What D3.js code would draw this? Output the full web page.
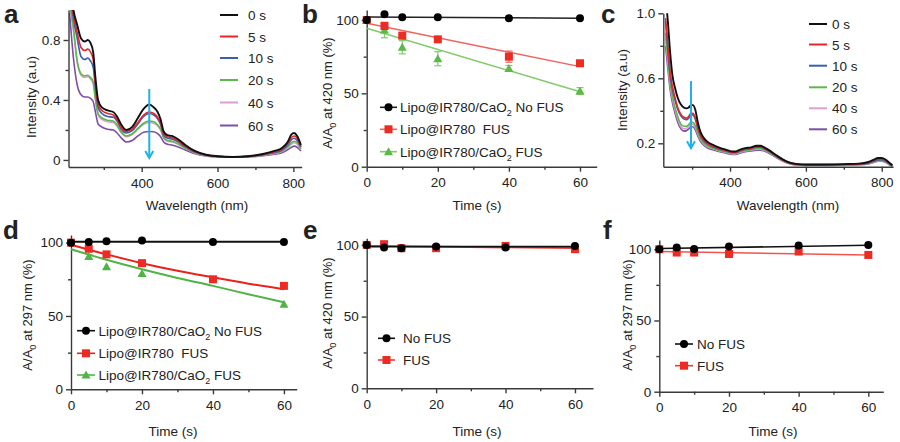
<!DOCTYPE html>
<html><head><meta charset="utf-8">
<script src="https://cdn.jsdelivr.net/npm/d3@7"></script>
<style>
body{margin:0;background:#fff}
svg{display:block}
text{font-family:Arial,"Liberation Sans",Helvetica,sans-serif;fill:#222;white-space:pre}
</style>
</head><body>
<svg id="chart" width="900" height="442"></svg>
<script>
// ---------------- DATA ----------------
const SERIES_LABELS = ["0 s", "5 s", "10 s", "20 s", "40 s", "60 s"];
const SERIES_COLORS = ["#111111", "#e8262a", "#3c5eb0", "#5cb848", "#dc9fd3", "#7d4fa5"];

// panel a spectra (Intensity vs wavelength)
const WL_A = [210,220,230,240,250,258,265,272,278,285,295,310,325,335,345,360,375,390,405,420,432,442,450,458,468,480,495,515,540,570,600,640,680,720,750,770,785,795,802,810,820];
const A_0S  = [1.2,1.0,0.9,0.81,0.79,0.8,0.78,0.72,0.55,0.40,0.35,0.33,0.32,0.29,0.24,0.20,0.22,0.28,0.34,0.37,0.35,0.32,0.27,0.19,0.165,0.16,0.14,0.10,0.06,0.035,0.025,0.02,0.025,0.04,0.06,0.08,0.12,0.17,0.18,0.16,0.10];
const A_5S  = [1.15,0.97,0.85,0.75,0.73,0.74,0.72,0.67,0.51,0.37,0.33,0.31,0.30,0.27,0.22,0.19,0.205,0.25,0.30,0.32,0.31,0.285,0.245,0.175,0.155,0.15,0.13,0.093,0.056,0.033,0.024,0.02,0.024,0.037,0.055,0.072,0.11,0.15,0.16,0.145,0.09];
const A_10S = [1.12,0.94,0.81,0.69,0.67,0.68,0.66,0.62,0.48,0.35,0.31,0.29,0.285,0.26,0.21,0.18,0.195,0.24,0.29,0.31,0.30,0.275,0.235,0.165,0.145,0.14,0.122,0.088,0.053,0.032,0.023,0.02,0.023,0.035,0.05,0.066,0.10,0.135,0.145,0.13,0.085];
const A_20S = [1.05,0.88,0.66,0.575,0.56,0.565,0.55,0.52,0.41,0.31,0.28,0.265,0.26,0.235,0.19,0.16,0.175,0.21,0.245,0.26,0.255,0.235,0.205,0.15,0.13,0.125,0.11,0.08,0.049,0.03,0.022,0.019,0.022,0.033,0.046,0.06,0.088,0.115,0.125,0.115,0.075];
const A_40S = [1.03,0.86,0.65,0.565,0.55,0.555,0.54,0.51,0.40,0.30,0.27,0.255,0.25,0.225,0.185,0.155,0.17,0.205,0.238,0.25,0.245,0.226,0.198,0.145,0.125,0.12,0.106,0.077,0.047,0.029,0.021,0.019,0.021,0.031,0.043,0.056,0.082,0.105,0.115,0.105,0.07];
const A_60S = [0.98,0.68,0.5,0.435,0.42,0.42,0.41,0.39,0.32,0.24,0.22,0.205,0.2,0.18,0.15,0.12,0.13,0.16,0.185,0.19,0.188,0.175,0.155,0.12,0.105,0.10,0.088,0.066,0.042,0.027,0.02,0.018,0.02,0.028,0.038,0.048,0.068,0.085,0.092,0.085,0.06];

// panel c spectra
const WL_C = [230,236,242,248,255,262,270,278,285,291,297,302,308,315,322,330,340,355,370,390,405,415,425,440,455,470,480,490,505,520,540,560,580,600,650,700,740,765,780,790,800,810,820,828];
const C_0S  = [1.1,0.95,0.76,0.62,0.54,0.48,0.44,0.42,0.415,0.42,0.435,0.435,0.41,0.33,0.27,0.235,0.21,0.19,0.175,0.16,0.15,0.15,0.16,0.17,0.175,0.185,0.185,0.175,0.155,0.13,0.10,0.08,0.072,0.07,0.07,0.072,0.075,0.085,0.10,0.11,0.11,0.10,0.08,0.065];
const C_5S  = [0.97,0.8,0.64,0.55,0.48,0.42,0.38,0.36,0.355,0.365,0.385,0.385,0.36,0.30,0.25,0.22,0.20,0.18,0.168,0.155,0.145,0.145,0.155,0.165,0.17,0.18,0.18,0.17,0.15,0.125,0.097,0.078,0.071,0.069,0.069,0.071,0.073,0.082,0.095,0.103,0.104,0.095,0.077,0.063];
const C_10S = [0.95,0.78,0.62,0.53,0.465,0.41,0.37,0.35,0.345,0.355,0.375,0.375,0.35,0.29,0.245,0.215,0.195,0.177,0.165,0.152,0.143,0.143,0.152,0.162,0.167,0.176,0.176,0.167,0.147,0.123,0.095,0.076,0.069,0.067,0.067,0.069,0.071,0.078,0.09,0.098,0.099,0.09,0.074,0.06];
const C_20S = [0.88,0.72,0.58,0.49,0.42,0.365,0.32,0.305,0.305,0.315,0.33,0.33,0.31,0.265,0.228,0.203,0.185,0.17,0.158,0.146,0.138,0.138,0.146,0.156,0.161,0.168,0.168,0.16,0.142,0.12,0.093,0.075,0.068,0.066,0.066,0.068,0.07,0.076,0.087,0.094,0.095,0.087,0.072,0.06];
const C_40S = [0.85,0.7,0.56,0.475,0.405,0.35,0.305,0.29,0.292,0.303,0.318,0.318,0.30,0.258,0.222,0.198,0.18,0.166,0.155,0.143,0.135,0.135,0.143,0.153,0.158,0.164,0.164,0.157,0.14,0.118,0.092,0.074,0.067,0.065,0.065,0.067,0.069,0.075,0.085,0.092,0.093,0.085,0.07,0.059];
const C_60S = [0.8,0.66,0.53,0.45,0.385,0.33,0.29,0.275,0.278,0.288,0.302,0.302,0.285,0.245,0.212,0.19,0.173,0.16,0.15,0.139,0.132,0.132,0.139,0.148,0.153,0.158,0.158,0.152,0.136,0.115,0.09,0.073,0.066,0.064,0.064,0.066,0.068,0.073,0.083,0.09,0.09,0.083,0.068,0.058];

// kinetic panels
const TIME_B = [0, 5, 10, 20, 40, 60];
const B_NOFUS      = [100, 103.9, 101.8, 101.8, 101.1, 101.1];
const B_IR780_FUS  = [100, 95.9, 89.3, 86.8, 75.0, 70.5];
const B_IR780_ERR  = [0, 1.5, 1.2, 1.0, 3.8, 1.2];
const B_CAO2_FUS   = [100, 93.2, 81.4, 73.6, 67.0, 51.6];
const B_CAO2_ERR   = [0, 5.3, 4.5, 4.8, 2.0, 2.3];
const FIT_T_LIN = [0, 60];
const B_FIT_NOFUS = [102.0, 101.2];
const B_FIT_IR780 = [97.7, 68.2];
const B_FIT_CAO2  = [94.3, 51.1];

const TIME_D = [0, 5, 10, 20, 40, 60];
const D_NOFUS     = [100, 100.5, 101, 101.5, 100.5, 100.5];
const D_IR780_FUS = [100, 95.8, 92.0, 86.0, 75.0, 70.5];
const TIME_D_CAO2 = [0, 5, 10, 20, 60];
const D_CAO2_FUS  = [100, 90.5, 83.5, 79.0, 58.0];
const FIT_T_D = [0, 10, 20, 30, 40, 50, 60];
const D_FIT_NOFUS = [100.6, 100.6, 100.6, 100.6, 100.6, 100.6, 100.6];
const D_FIT_IR780 = [98.6, 92.0, 86.0, 80.8, 76.3, 72.0, 68.2];
const D_FIT_CAO2  = [95.5, 88.3, 81.8, 75.9, 70.5, 64.8, 59.3];

const TIME_E = [0, 5, 10, 20, 40, 60];
const E_NOFUS = [100, 98.1, 97.7, 98.8, 98.1, 99.3];
const E_FUS   = [100, 100.5, 97.7, 97.7, 99.3, 97.0];
const E_FIT_NOFUS = [98.8, 98.8];
const E_FIT_FUS   = [99.3, 97.7];

const TIME_F = [0, 5, 10, 20, 40, 60];
const F_NOFUS = [100, 101.2, 100.2, 101.9, 102.6, 103.0];
const F_FUS   = [100, 97.7, 97.7, 96.7, 98.4, 96.0];
const F_FIT_NOFUS = [100.5, 102.8];
const F_FIT_FUS   = [98.4, 96.0];

const WL_TICKS = [400, 600, 800], WL_MINOR = [300, 500, 700];
const TIME_TICKS = [0, 20, 40, 60], TIME_MINOR = [10, 30, 50];
const PCT_TICKS = [0, 50, 100], PCT_MINOR = [25, 75];
const A_YTICKS = [0, 0.4, 0.8], A_YMINOR = [0.2, 0.6];
const C_YTICKS = [0.2, 0.6, 1.0], C_YMINOR = [0.4, 0.8];

// ---------------- DRAW ----------------
const svg = d3.select("#chart");
const AX = "#3a3a3a";
const FS = 13.5;

function drawAxes(x, y, xt, xm, yt, ym, yfmt) {
  const g = svg.append("g");
  const x0 = x.range()[0], y0 = y.range()[0];
  const gx = g.append("g").attr("transform", `translate(0,${y0})`)
    .call(d3.axisBottom(x).tickValues(xt).tickSize(5).tickPadding(6).tickSizeOuter(0));
  const gxm = g.append("g").attr("transform", `translate(0,${y0})`)
    .call(d3.axisBottom(x).tickValues(xm).tickSize(3).tickFormat("").tickSizeOuter(0));
  const gy = g.append("g").attr("transform", `translate(${x0},0)`)
    .call(d3.axisLeft(y).tickValues(yt).tickSize(5).tickPadding(3).tickSizeOuter(0).tickFormat(yfmt));
  const gym = g.append("g").attr("transform", `translate(${x0},0)`)
    .call(d3.axisLeft(y).tickValues(ym).tickSize(3).tickFormat("").tickSizeOuter(0));
  [gxm, gym].forEach(a => a.select(".domain").remove());
  [gx, gxm, gy, gym].forEach(a => {
    a.selectAll(".domain,line").attr("stroke", AX).attr("stroke-width", 1.4);
    a.selectAll("text").attr("font-size", FS).attr("fill", "#222")
      .attr("font-family", 'Arial,"Liberation Sans",sans-serif');
  });
}

function xTitle(txt, cx, by) {
  svg.append("text").attr("x", cx).attr("y", by).attr("text-anchor", "middle")
    .attr("font-size", FS).text(txt);
}
function yTitle(parts, cx, cy, fs) {
  const t = svg.append("text").attr("transform", `translate(${cx},${cy}) rotate(-90)`)
    .attr("text-anchor", "middle").attr("font-size", fs);
  parts.forEach(p => {
    const s = t.append("tspan").text(p.t);
    if (p.sub) s.attr("font-size", fs * 0.7).attr("dy", 4);
    if (p.back) s.attr("dy", -4);
  });
}
function panelLetter(l, x, y) {
  svg.append("text").attr("x", x).attr("y", y).attr("font-size", 26)
    .attr("font-weight", "bold").attr("fill", "#000").text(l);
}

function spectraPanel(id, wl, curves, x, y, arrowNm, arrowFrom, arrowTo) {
  const clipId = "clip" + id;
  svg.append("clipPath").attr("id", clipId).append("rect")
    .attr("x", x.range()[0]).attr("y", y.range()[1])
    .attr("width", x.range()[1] - x.range()[0] + 2).attr("height", y.range()[0] - y.range()[1]);
  const g = svg.append("g").attr("clip-path", `url(#${clipId})`);
  const line = d3.line().x((d, i) => x(wl[i])).y(d => y(d)).curve(d3.curveMonotoneX);
  curves.slice().reverse().forEach((c, ri) => {
    const i = curves.length - 1 - ri;
    g.append("path").attr("d", line(c)).attr("fill", "none")
      .attr("stroke", SERIES_COLORS[i]).attr("stroke-width", i === 0 ? 1.9 : 1.6)
      .attr("stroke-linejoin", "round");
  });
  // arrow
  const ax = x(arrowNm), ay1 = y(arrowFrom), ay2 = y(arrowTo);
  svg.append("line").attr("x1", ax).attr("x2", ax).attr("y1", ay1).attr("y2", ay2)
    .attr("stroke", "#1fb2ea").attr("stroke-width", 2);
  svg.append("path").attr("d", `M${ax - 4},${ay2 - 7} L${ax},${ay2} L${ax + 4},${ay2 - 7}`)
    .attr("fill", "none").attr("stroke", "#1fb2ea").attr("stroke-width", 2);
}

function spectraLegend(x1, x2, tx, ys) {
  SERIES_LABELS.forEach((lab, i) => {
    svg.append("line").attr("x1", x1).attr("x2", x2).attr("y1", ys[i]).attr("y2", ys[i])
      .attr("stroke", SERIES_COLORS[i]).attr("stroke-width", 2);
    svg.append("text").attr("x", tx).attr("y", ys[i] + 5).attr("font-size", FS).text(lab);
  });
}

function marker(g, type, cx, cy, color) {
  if (type === "circle") g.append("circle").attr("cx", cx).attr("cy", cy).attr("r", 4).attr("fill", color);
  else if (type === "square") g.append("rect").attr("x", cx - 4).attr("y", cy - 4).attr("width", 8).attr("height", 8).attr("fill", color);
  else g.append("path").attr("d", `M${cx},${cy - 4.5} L${cx + 4.5},${cy + 3.5} L${cx - 4.5},${cy + 3.5} Z`).attr("fill", color);
}

function kineticSeries(x, y, s) {
  const g = svg.append("g");
  const line = d3.line().x((d, i) => x(s.ft[i])).y(d => y(d)).curve(d3.curveMonotoneX);
  g.append("path").attr("d", line(s.fit)).attr("fill", "none").attr("stroke", s.lineColor)
    .attr("stroke-width", s.lw || 1.5);
  if (s.err) {
    s.t.forEach((t, i) => {
      const e = s.err[i]; if (!e) return;
      const cx = x(t);
      g.append("line").attr("x1", cx).attr("x2", cx).attr("y1", y(s.v[i] - e)).attr("y2", y(s.v[i] + e))
        .attr("stroke", s.lineColor).attr("stroke-width", 1.2);
      [s.v[i] - e, s.v[i] + e].forEach(v => g.append("line").attr("x1", cx - 3.5).attr("x2", cx + 3.5)
        .attr("y1", y(v)).attr("y2", y(v)).attr("stroke", s.lineColor).attr("stroke-width", 1.2));
    });
  }
  s.t.forEach((t, i) => marker(g, s.m, x(t), y(s.v[i]), s.color));
}

function kineticLegend(items, x1, x2, tx, ys) {
  items.forEach((it, i) => {
    const yy = ys[i];
    svg.append("line").attr("x1", x1).attr("x2", x2).attr("y1", yy).attr("y2", yy)
      .attr("stroke", it.lineColor).attr("stroke-width", 1.6);
    marker(svg, it.m, (x1 + x2) / 2, yy, it.color);
    const t = svg.append("text").attr("x", tx).attr("y", yy + 5).attr("font-size", FS);
    it.parts.forEach(p => {
      const s = t.append("tspan").text(p.t);
      if (p.sub) s.attr("font-size", 9).attr("dy", 4);
      if (p.back) s.attr("dy", -4);
    });
  });
}

const fmt1 = d => d === 0 ? "0" : d.toFixed(1);
const fmt0 = d => String(d);

// ---- panel a ----
const xA = d3.scaleLinear().domain([207, 822]).range([68.5, 301.7]);
const yA = d3.scaleLinear().domain([-0.047, 1.0]).range([167, 10]);
spectraPanel("a", WL_A, [A_0S, A_5S, A_10S, A_20S, A_40S, A_60S], xA, yA, 420, 0.473, 0.013);
drawAxes(xA, yA, WL_TICKS, WL_MINOR, A_YTICKS, A_YMINOR, fmt1);
spectraLegend(220, 238, 248, [15, 36.5, 58, 80, 102.5, 125.5]);
xTitle("Wavelength (nm)", 197, 210);
yTitle([{t: "Intensity (a.u)"}], 36, 97, FS);
panelLetter("a", 4, 23);

// ---- panel c ----
const xC = d3.scaleLinear().domain([224, 830]).range([663.3, 893.1]);
const yC = d3.scaleLinear().domain([0.056, 1.0]).range([166.7, 13.3]);
spectraPanel("c", WL_C, [C_0S, C_5S, C_10S, C_20S, C_40S, C_60S], xC, yC, 297, 0.583, 0.169);
drawAxes(xC, yC, WL_TICKS, WL_MINOR, C_YTICKS, C_YMINOR, fmt1);
spectraLegend(809, 827, 832, [24, 44.5, 65.7, 87.3, 108.3, 129.3]);
xTitle("Wavelength (nm)", 788, 210);
yTitle([{t: "Intensity (a.u)"}], 627, 90, FS);
panelLetter("c", 601, 23);

// ---- panel b ----
const xB = d3.scaleLinear().domain([0, 64.7]).range([366.7, 596.7]);
const yB = d3.scaleLinear().domain([0, 106.8]).range([166.7, 10]);
drawAxes(xB, yB, TIME_TICKS, TIME_MINOR, PCT_TICKS, PCT_MINOR, fmt0);
const RED_M = "#ec2b24", GRN_M = "#5cb848";
kineticSeries(xB, yB, {t: TIME_B, v: B_CAO2_FUS, err: B_CAO2_ERR, ft: FIT_T_LIN, fit: B_FIT_CAO2, m: "tri", color: GRN_M, lineColor: "#7dcc68"});
kineticSeries(xB, yB, {t: TIME_B, v: B_IR780_FUS, err: B_IR780_ERR, ft: FIT_T_LIN, fit: B_FIT_IR780, m: "square", color: RED_M, lineColor: "#f2625c"});
kineticSeries(xB, yB, {t: TIME_B, v: B_NOFUS, ft: FIT_T_LIN, fit: B_FIT_NOFUS, m: "circle", color: "#000", lineColor: "#222"});
const LEG3 = [
  {m: "circle", color: "#000", lineColor: "#222", parts: [{t: "Lipo@IR780/CaO"}, {t: "2", sub: true}, {t: " No FUS", back: true}]},
  {m: "square", color: RED_M, lineColor: "#f2625c", parts: [{t: "Lipo@IR780  FUS"}]},
  {m: "tri", color: GRN_M, lineColor: "#7dcc68", parts: [{t: "Lipo@IR780/CaO"}, {t: "2", sub: true}, {t: " FUS", back: true}]}
];
kineticLegend(LEG3, 380, 397, 400, [107.3, 129.3, 151.7]);
xTitle("Time (s)", 477, 210);
yTitle([{t: "A/A"}, {t: "0", sub: true}, {t: " at 420 nm (%)", back: true}], 332, 93, 13);
panelLetter("b", 302, 23);

// ---- panel d ----
const xD = d3.scaleLinear().domain([0, 63.6]).range([71, 296.7]);
const yD = d3.scaleLinear().domain([0, 105.2]).range([389.3, 235]);
drawAxes(xD, yD, TIME_TICKS, TIME_MINOR, PCT_TICKS, PCT_MINOR, fmt0);
kineticSeries(xD, yD, {t: TIME_D_CAO2, v: D_CAO2_FUS, ft: FIT_T_D, fit: D_FIT_CAO2, m: "tri", color: "#4fb444", lineColor: "#4fb444", lw: 2});
kineticSeries(xD, yD, {t: TIME_D, v: D_IR780_FUS, ft: FIT_T_D, fit: D_FIT_IR780, m: "square", color: RED_M, lineColor: "#e8221d", lw: 2});
kineticSeries(xD, yD, {t: TIME_D, v: D_NOFUS, ft: FIT_T_D, fit: D_FIT_NOFUS, m: "circle", color: "#000", lineColor: "#111", lw: 2});
const LEG3D = [
  {m: "circle", color: "#000", lineColor: "#111", parts: LEG3[0].parts},
  {m: "square", color: RED_M, lineColor: "#e8221d", parts: LEG3[1].parts},
  {m: "tri", color: "#4fb444", lineColor: "#4fb444", parts: LEG3[2].parts}
];
kineticLegend(LEG3D, 77, 95, 98.5, [330.7, 353.3, 375]);
xTitle("Time (s)", 173, 436);
yTitle([{t: "A/A"}, {t: "0", sub: true}, {t: " at 297 nm (%)", back: true}], 32, 315, 13);
panelLetter("d", 3, 239);

// ---- panel e ----
const xE = d3.scaleLinear().domain([0, 65.2]).range([366.7, 593]);
const yE = d3.scaleLinear().domain([0, 104.6]).range([388.3, 238.3]);
drawAxes(xE, yE, TIME_TICKS, TIME_MINOR, PCT_TICKS, PCT_MINOR, fmt0);
kineticSeries(xE, yE, {t: TIME_E, v: E_FUS, ft: FIT_T_LIN, fit: E_FIT_FUS, m: "square", color: RED_M, lineColor: "#ef3a33", lw: 1.8});
kineticSeries(xE, yE, {t: TIME_E, v: E_NOFUS, ft: FIT_T_LIN, fit: E_FIT_NOFUS, m: "circle", color: "#000", lineColor: "#111", lw: 1.6});
const LEG2 = [
  {m: "circle", color: "#000", lineColor: "#111", parts: [{t: "No FUS"}]},
  {m: "square", color: RED_M, lineColor: "#ef3a33", parts: [{t: "FUS"}]}
];
kineticLegend(LEG2, 378, 395, 403, [338.3, 360]);
xTitle("Time (s)", 477, 436);
yTitle([{t: "A/A"}, {t: "0", sub: true}, {t: " at 420 nm (%)", back: true}], 332, 313, 13);
panelLetter("e", 303, 239);

// ---- panel f ----
const xF = d3.scaleLinear().domain([0, 64.3]).range([659.3, 883.3]);
const yF = d3.scaleLinear().domain([0, 106.5]).range([391.7, 240]);
drawAxes(xF, yF, TIME_TICKS, TIME_MINOR, PCT_TICKS, PCT_MINOR, fmt0);
kineticSeries(xF, yF, {t: TIME_F, v: F_FUS, ft: FIT_T_LIN, fit: F_FIT_FUS, m: "square", color: RED_M, lineColor: "#f0554f", lw: 1.6});
kineticSeries(xF, yF, {t: TIME_F, v: F_NOFUS, ft: FIT_T_LIN, fit: F_FIT_NOFUS, m: "circle", color: "#000", lineColor: "#111", lw: 1.6});
kineticLegend(LEG2, 675, 693, 697, [344, 365.7]);
xTitle("Time (s)", 773, 436);
yTitle([{t: "A/A"}, {t: "0", sub: true}, {t: " at 297 nm (%)", back: true}], 632, 315, 13);
panelLetter("f", 603, 239);
</script>
</body></html>
